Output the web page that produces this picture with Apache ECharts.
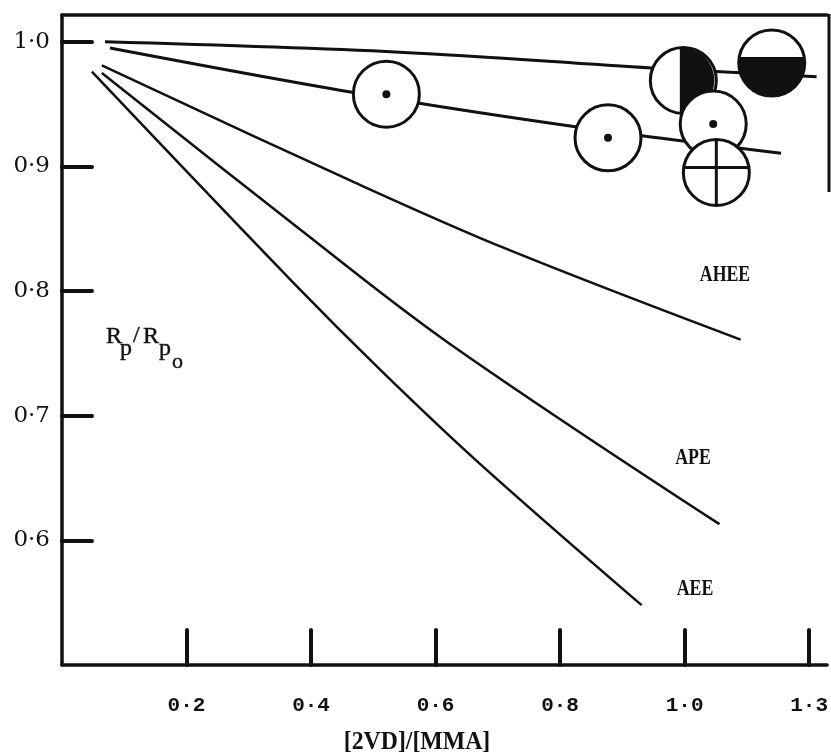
<!DOCTYPE html>
<html>
<head>
<meta charset="utf-8">
<script src="https://cdn.jsdelivr.net/npm/echarts@6/dist/echarts.min.js"></script>
<style>
html,body{margin:0;padding:0;background:#fff;}
#chart{width:831px;height:753px;}
</style>
</head>
<body>
<div id="chart"></div>
<script>
// ---- data ----
const xTickValues = [0.2, 0.4, 0.6, 0.8, 1.0, 1.2];
const xTickLabels = ['0·2', '0·4', '0·6', '0·8', '1·0', '1·3'];
const yTickValues = [0.6, 0.7, 0.8, 0.9, 1.0];
const yTickLabels = ['0·6', '0·7', '0·8', '0·9', '1·0'];

const topLine = [[0.069, 1.000], [0.542, 0.9917], [0.947, 0.979], [1.212, 0.972]];
const secondLine = [[0.077, 0.995], [0.466, 0.9595], [0.822, 0.932], [1.155, 0.9105]];
const aheeLine = [[0.064, 0.981], [0.462, 0.889], [0.713, 0.834], [1.090, 0.761]];
const apeLine = [[0.064, 0.975], [0.381, 0.850], [0.622, 0.758], [1.056, 0.613]];
const aeeLine = [[0.048, 0.976], [0.369, 0.808], [0.513, 0.736], [0.670, 0.662], [0.931, 0.548]];

const symbolX = [0.521, 0.877, 0.998, 1.140, 1.046, 1.051];
const symbolY = [0.958, 0.923, 0.969, 0.983, 0.934, 0.8952];
const symbolKinds = ['dot', 'dot', 'halfV', 'halfH', 'dot', 'cross'];

const curveNames = ['AHEE', 'APE', 'AEE'];

// ---- chart ----
const chart = echarts.init(document.getElementById('chart'), null, {renderer: 'canvas'});
const X_MAX = 1.229, Y_MIN = 0.5, Y_MAX = 1.0215;
const ink = '#111';

function lineSeries(name, data, w) {
  return {
    name: name, type: 'line', data: data, showSymbol: false, smooth: 0.35,
    lineStyle: {color: ink, width: w}, z: 2, silent: true
  };
}

function renderSymbol(params, api) {
  const c = api.coord([api.value(0), api.value(1)]);
  const kind = symbolKinds[params.dataIndex];
  const r = 33;
  const cx = c[0], cy = c[1];
  const children = [{type: 'circle', shape: {cx: cx, cy: cy, r: r}, style: {fill: '#fff', stroke: null}}];
  if (kind === 'halfV') {
    children.push({type: 'sector', shape: {cx: cx - 2, cy: cy, r0: 0, r: r, startAngle: -Math.PI / 2, endAngle: Math.PI / 2, clockwise: true}, style: {fill: ink}});
    children.push({type: 'line', shape: {x1: cx - 2, y1: cy - r, x2: cx - 2, y2: cy + r}, style: {stroke: ink, lineWidth: 3}});
  } else if (kind === 'halfH') {
    const h = -6; // chord offset above centre
    const a0 = Math.asin(h / r);
    const pts = [];
    for (let i = 0; i <= 40; i++) {
      const a = a0 + (Math.PI - 2 * a0) * i / 40;
      pts.push([cx + r * Math.cos(a), cy + r * Math.sin(a)]);
    }
    children.push({type: 'polygon', shape: {points: pts}, style: {fill: ink}});
  } else if (kind === 'cross') {
    children.push({type: 'line', shape: {x1: cx - r, y1: cy - 5, x2: cx + r, y2: cy - 5}, style: {stroke: ink, lineWidth: 3}});
    children.push({type: 'line', shape: {x1: cx, y1: cy - r, x2: cx, y2: cy + r}, style: {stroke: ink, lineWidth: 3}});
  } else {
    children.push({type: 'circle', shape: {cx: cx, cy: cy, r: 4}, style: {fill: ink}});
  }
  children.push({type: 'circle', shape: {cx: cx, cy: cy, r: r}, style: {fill: null, stroke: ink, lineWidth: 3}});
  return {type: 'group', children: children};
}

function curveLabel(text, x, y) {
  return {type: 'text', x: x, y: y, scaleX: 0.74,
    style: {text: text, fontFamily: 'Liberation Serif', fontWeight: 'bold', fontSize: 24, fill: ink, align: 'center', verticalAlign: 'middle'}};
}
function subText(text, x, y, size) {
  return {type: 'text', x: x, y: y,
    style: {text: text, fontFamily: 'Liberation Serif', fontSize: size, fill: ink, align: 'left', verticalAlign: 'middle', stroke: ink, lineWidth: 0.4}};
}

const option = {
  backgroundColor: '#fff',
  animation: false,
  grid: {left: 62, right: 2, top: 15, bottom: 88, containLabel: false},
  xAxis: [{
    type: 'value', min: 0, max: X_MAX, position: 'bottom',
    splitLine: {show: false},
    axisLine: {show: true, onZero: false, lineStyle: {color: ink, width: 3.5}},
    axisTick: {show: true, inside: true, length: 35, customValues: xTickValues, lineStyle: {color: ink, width: 4, cap: 'round'}},
    axisLabel: {
      show: true, margin: 30, customValues: xTickValues,
      formatter: function (v) { const i = xTickValues.findIndex(t => Math.abs(t - v) < 1e-6); return i >= 0 ? xTickLabels[i] : ''; },
      color: ink, fontFamily: 'Liberation Mono', fontWeight: 'bold', fontSize: 21
    }
  }, {
    type: 'value', min: 0, max: X_MAX, position: 'top',
    splitLine: {show: false},
    axisLine: {show: true, onZero: false, lineStyle: {color: ink, width: 3.5}},
    axisTick: {show: false}, axisLabel: {show: false}
  }],
  yAxis: [{
    type: 'value', min: Y_MIN, max: Y_MAX,
    splitLine: {show: false},
    axisLine: {show: true, onZero: false, lineStyle: {color: ink, width: 3.5}},
    axisTick: {show: true, inside: true, length: 30, customValues: yTickValues, lineStyle: {color: ink, width: 4, cap: 'round'}},
    axisLabel: {
      show: true, margin: 12, customValues: yTickValues,
      formatter: function (v) { const i = yTickValues.findIndex(t => Math.abs(t - v) < 1e-6); return i >= 0 ? yTickLabels[i] : ''; },
      color: ink, fontFamily: 'DejaVu Serif', fontSize: 23
    }
  }],
  series: [
    lineSeries('top', topLine, 3),
    lineSeries('second', secondLine, 3),
    lineSeries(curveNames[0], aheeLine, 2.5),
    lineSeries(curveNames[1], apeLine, 2.5),
    lineSeries(curveNames[2], aeeLine, 2.5),
    {
      type: 'custom', name: 'symbols', z: 5, silent: true,
      data: symbolX.map((x, i) => [x, symbolY[i]]),
      renderItem: renderSymbol
    }
  ],
  graphic: [
    {type: 'line', shape: {x1: 829, y1: 14, x2: 829, y2: 192}, style: {stroke: ink, lineWidth: 3}},
    {type: 'text', x: 417, y: 743, scaleX: 0.95, style: {text: '[2VD]/[MMA]', fontFamily: 'Liberation Serif', fontWeight: 'bold', fontSize: 25, fill: ink, align: 'center', verticalAlign: 'middle'}},
    subText('R', 106, 337, 24),
    subText('p', 120, 349, 24),
    subText('/', 133, 336, 24),
    subText('R', 143, 337, 24),
    subText('p', 159, 349, 24),
    subText('o', 172, 362, 22),
    curveLabel(curveNames[0], 725, 275),
    curveLabel(curveNames[1], 693, 458),
    curveLabel(curveNames[2], 695, 589)
  ]
};
chart.setOption(option);
</script>
</body>
</html>
